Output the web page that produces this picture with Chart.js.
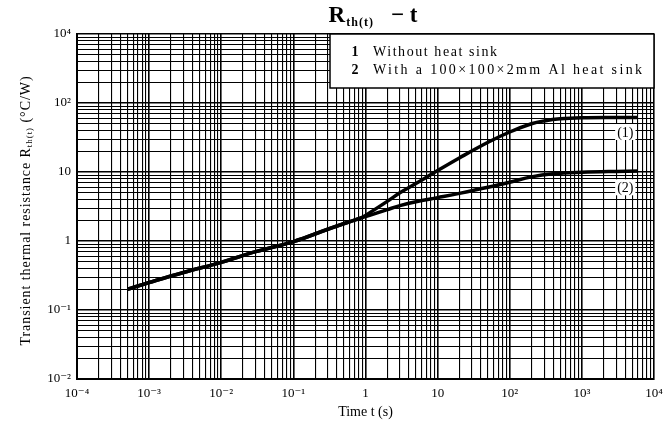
<!DOCTYPE html>
<html>
<head>
<meta charset="utf-8">
<script src="https://cdn.jsdelivr.net/npm/chart.js@4.4.1/dist/chart.umd.min.js"></script>
<style>
    html, body { margin: 0; padding: 0; background: #fff; }
    #wrap { width: 670px; height: 434px; position: relative; }
</style>
</head>
<body>
<div id="wrap"><canvas id="thermalChart"></canvas></div>
<script>
// Curve values (time in s, resistance in °C/W)
const timeCommon = [5e-4, 1e-3, 3e-3, 1e-2, 3e-2, 0.1, 0.3, 0.6, 0.85];
const resCommon = [0.2, 0.25, 0.35, 0.49, 0.7, 0.98, 1.48, 1.9, 2.15];
const time1 = [1, 2, 3, 5, 10, 20, 50, 100, 200, 300, 500, 1000, 3000, 6000];
const res1 = [2.35, 3.75, 5.0, 6.8, 10.5, 16, 27, 38, 50, 55, 59, 61, 61.5, 61.5];
const time2 = [1, 2, 3, 5, 10, 20, 50, 100, 200, 400, 1000, 3000, 6000];
const res2 = [2.25, 2.85, 3.25, 3.7, 4.25, 4.9, 6.0, 7.1, 8.5, 9.4, 9.9, 10.2, 10.3];

// Axis decades and their printed labels
const xDecades = [1e-4, 1e-3, 1e-2, 1e-1, 1, 10, 100, 1000, 10000];
const xTickLabels = ['10⁻⁴', '10⁻³', '10⁻²', '10⁻¹', '1', '10', '10²', '10³', '10⁴'];
const yDecades = [0.01, 0.1, 1, 10, 100, 1000];
const yTickLabels = ['10⁻²', '10⁻¹', '1', '10', '10²', '10⁴'];
const gridSteps = [1, 2, 3, 4, 5, 6, 7, 8, 9];

// Legend box and curve tags
const legendNumbers = ['1', '2'];
const legendTexts = ['Without heat sink', 'With a 100×100×2mm Al heat sink'];
const curveTags = ['(1)', '(2)'];
const curveTagTime = [4000, 4000];
const curveTagRes = [38, 6];

const serif = "'Liberation Serif', 'DejaVu Serif', serif";

function toPoints(ts, rs) {
    return ts.map((t, i) => ({ x: t, y: rs[i] }));
}

// every 1..9 line of log paper
function logGridTicks(decades) {
    const ticks = [];
    decades.forEach((d, i) => {
        if (i === decades.length - 1) {
            ticks.push({ value: d });
            return;
        }
        gridSteps.forEach(s => ticks.push({ value: +(d * s).toPrecision(4) }));
    });
    return ticks;
}

function decadeIndex(decades, value) {
    return decades.findIndex(d => Math.abs(d - value) / d < 1e-6);
}

// draw text stretched to a given width with letter spacing
function drawSpaced(ctx, text, x, y, width) {
    ctx.letterSpacing = '0px';
    const natural = ctx.measureText(text).width;
    const gap = text.length > 1 ? (width - natural) / (text.length - 1) : 0;
    ctx.letterSpacing = gap + 'px';
    ctx.fillText(text, x, y);
    ctx.letterSpacing = '0px';
}

const annotate = {
    id: 'annotate',
    afterDraw(chart) {
        const { ctx, chartArea, scales: { x, y } } = chart;
        ctx.save();
        ctx.fillStyle = '#000';
        ctx.textBaseline = 'alphabetic';

        // title  R_th(t) - t
        const cx = (chartArea.left + chartArea.right) / 2 + 7;
        ctx.font = 'bold 23px ' + serif;
        const wR = ctx.measureText('R').width;
        ctx.font = 'bold 12px ' + serif;
        const wSub = ctx.measureText('th(t)').width + 4;
        ctx.font = 'bold 23px ' + serif;
        const wT = ctx.measureText('− t').width;
        let tx = cx - (wR + wSub + 18 + wT) / 2;
        ctx.textAlign = 'left';
        ctx.fillText('R', tx, 22);
        tx += wR + 1;
        ctx.font = 'bold 12px ' + serif;
        ctx.letterSpacing = '1px';
        ctx.fillText('th(t)', tx, 26);
        ctx.letterSpacing = '0px';
        tx += wSub + 18;
        ctx.font = 'bold 23px ' + serif;
        ctx.fillText('− t', tx, 22);

        // legend box
        const boxL = 330, boxT = chartArea.top, boxR = chartArea.right, boxB = chartArea.top + 54;
        ctx.fillStyle = '#fff';
        ctx.fillRect(boxL, boxT, boxR - boxL, boxB - boxT);
        ctx.strokeStyle = '#000';
        ctx.lineWidth = 1.5;
        ctx.strokeRect(boxL, boxT, boxR - boxL, boxB - boxT);
        ctx.fillStyle = '#000';
        const rowWidths = [124, 269];
        legendTexts.forEach((txt, i) => {
            const rowY = boxT + 22 + i * 18;
            ctx.font = 'bold 14px ' + serif;
            ctx.textAlign = 'center';
            ctx.fillText(legendNumbers[i], boxL + 25, rowY);
            ctx.font = '14px ' + serif;
            ctx.textAlign = 'left';
            drawSpaced(ctx, txt, boxL + 43, rowY, rowWidths[i]);
        });

        // curve tags with white background
        ctx.font = '14px ' + serif;
        ctx.textAlign = 'center';
        ctx.textBaseline = 'middle';
        curveTags.forEach((tag, i) => {
            const px = x.getPixelForValue(curveTagTime[i]);
            const py = y.getPixelForValue(curveTagRes[i]);
            const w = ctx.measureText(tag).width + 4;
            ctx.fillStyle = '#fff';
            ctx.fillRect(px - w / 2, py - 8, w, 16);
            ctx.fillStyle = '#000';
            ctx.fillText(tag, px, py + 1);
        });

        // rotated y-axis title with subscript
        const partA = 'Transient thermal resistance R';
        const partB = 'th(t)';
        const partC = ' (°C/W)';
        ctx.translate(26, (chartArea.top + chartArea.bottom) / 2 + 4);
        ctx.rotate(-Math.PI / 2);
        ctx.textBaseline = 'middle';
        ctx.textAlign = 'left';
        ctx.font = '14px ' + serif;
        const wA = ctx.measureText(partA).width;
        const wC = ctx.measureText(partC).width;
        ctx.font = '9px ' + serif;
        const wB = ctx.measureText(partB).width;
        const nChars = partA.length + partB.length + partC.length;
        const target = 270;
        const gap = (target - wA - wB - wC) / nChars;
        let px = -target / 2;
        ctx.letterSpacing = gap + 'px';
        ctx.font = '14px ' + serif;
        ctx.fillText(partA, px, 0);
        px += wA + gap * partA.length;
        ctx.font = '9px ' + serif;
        ctx.fillText(partB, px, 4);
        px += wB + gap * partB.length;
        ctx.font = '14px ' + serif;
        ctx.fillText(partC, px, 0);
        ctx.restore();
    }
};

const ctx = document.getElementById('thermalChart').getContext('2d');
new Chart(ctx, {
    type: 'line',
    data: {
        datasets: [{
            label: 'Without heat sink',
            data: toPoints(timeCommon.concat(time1), resCommon.concat(res1)),
            borderColor: '#000',
            borderWidth: 3.5,
            pointRadius: 0,
            tension: 0.4,
            fill: false
        },
        {
            label: 'With a 100×100×2mm Al heat sink',
            data: toPoints(timeCommon.concat(time2), resCommon.concat(res2)),
            borderColor: '#000',
            borderWidth: 3.5,
            pointRadius: 0,
            tension: 0.4,
            fill: false
        }]
    },
    options: {
        responsive: true,
        maintainAspectRatio: false,
        animation: false,
        layout: {
            padding: { top: 34, right: 16, left: 0, bottom: 0 }
        },
        plugins: {
            legend: { display: false },
            tooltip: { enabled: false },
            title: { display: false }
        },
        scales: {
            x: {
                type: 'logarithmic',
                min: 1e-4,
                max: 1e4,
                afterBuildTicks: scale => { scale.ticks = logGridTicks(xDecades); },
                afterFit: scale => { scale.height = 55; },
                ticks: {
                    autoSkip: false,
                    maxRotation: 0,
                    color: '#000',
                    padding: 7,
                    font: { family: serif, size: 13 },
                    callback: function (value) {
                        const i = decadeIndex(xDecades, value);
                        return i >= 0 ? xTickLabels[i] : '';
                    }
                },
                grid: {
                    color: '#000',
                    drawTicks: false,
                    lineWidth: c => decadeIndex(xDecades, c.tick.value) >= 0 ? 1.6 : 1.1
                },
                border: { display: true, color: '#000', width: 2 },
                title: {
                    display: true,
                    text: 'Time t (s)',
                    color: '#000',
                    font: { family: serif, size: 14 },
                    padding: { top: 4, bottom: 13 }
                }
            },
            y: {
                type: 'logarithmic',
                min: 0.01,
                max: 1000,
                afterBuildTicks: scale => { scale.ticks = logGridTicks(yDecades); },
                afterFit: scale => { scale.width = 77; },
                ticks: {
                    autoSkip: false,
                    color: '#000',
                    padding: 6,
                    font: { family: serif, size: 13 },
                    callback: function (value) {
                        const i = decadeIndex(yDecades, value);
                        return i >= 0 ? yTickLabels[i] : '';
                    }
                },
                grid: {
                    color: '#000',
                    drawTicks: false,
                    lineWidth: c => decadeIndex(yDecades, c.tick.value) >= 0 ? 1.6 : 1.1
                },
                border: { display: true, color: '#000', width: 2 }
            }
        }
    },
    plugins: [annotate]
});
</script>
</body>
</html>
